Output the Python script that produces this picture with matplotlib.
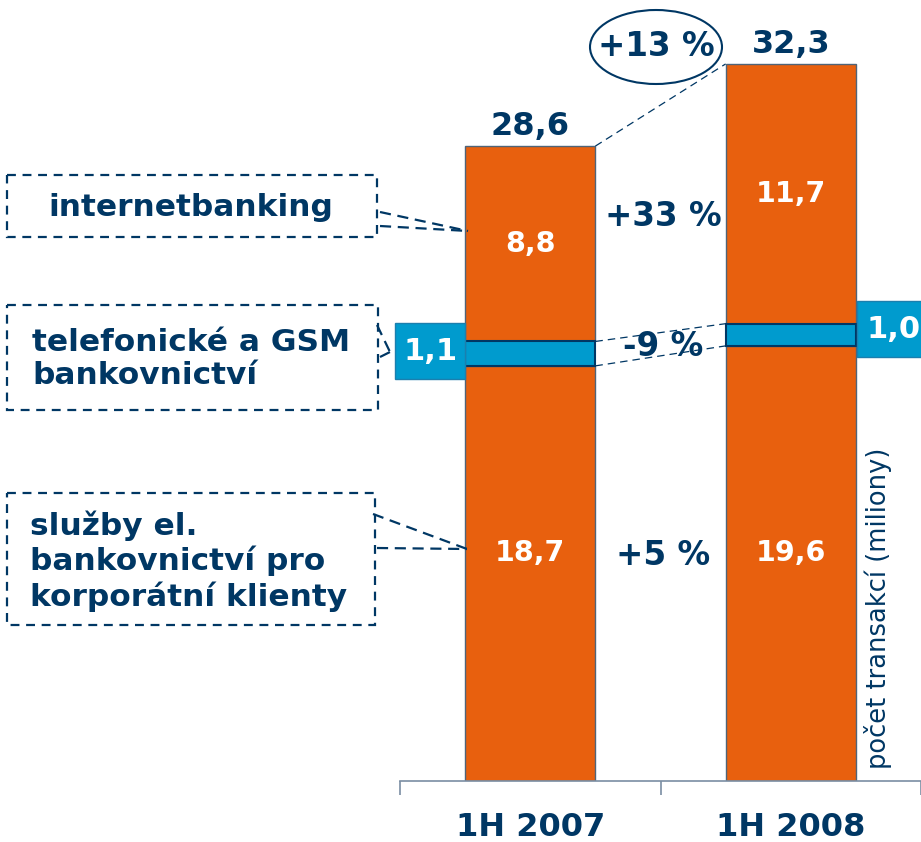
import matplotlib.pyplot as plt
from matplotlib.patches import Rectangle, Ellipse
import numpy as np

# data (milliony transakci)
periods = ["1H 2007", "1H 2008"]
korporatni = [18.7, 19.6]
telefon = [1.1, 1.0]
internet = [8.8, 11.7]
totals = ["28,6", "32,3"]
changes = ["+5 %", "-9 %", "+33 %"]
total_change = "+13 %"

ORANGE = "#E8600E"
BLUE = "#009BCE"
NAVY = "#003764"
EDGE = "#4f6478"


def cz(v):
    return f"{v:.1f}".replace(".", ",")


W, H = 921, 842
fig = plt.figure(figsize=(W / 100, H / 100), dpi=100)
plt.rcParams['font.family'] = ['DejaVu Sans']

# main axes: x 400..921 px, baseline at y=781
base = 781
ppu = 22.2  # pixels per milion
ax = fig.add_axes([400 / W, (H - base) / H, 521 / W, base / H])
ax.set_xlim(-0.5, 1.5)
ax.set_ylim(0, base / ppu)
for s in ["top", "right", "left"]:
    ax.spines[s].set_visible(False)
ax.spines["bottom"].set_color("#7a8ea3")
ax.spines["bottom"].set_linewidth(1.2)
ax.set_yticks([])
ax.set_xticks([-0.5, 0.5, 1.5])
ax.set_xticklabels([])
ax.tick_params(axis="x", length=10, width=1.2, color="#7a8ea3", direction="out")

x = np.arange(len(periods))
bw = 0.5
b1 = np.array(korporatni)
b2 = b1 + np.array(telefon)
tot = b2 + np.array(internet)
ax.bar(x, korporatni, bw, color=ORANGE, edgecolor=EDGE, linewidth=1)
ax.bar(x, telefon, bw, bottom=b1, color=BLUE, edgecolor=NAVY, linewidth=1.5, zorder=3)
ax.bar(x, internet, bw, bottom=b2, color=ORANGE, edgecolor=EDGE, linewidth=1)

low_y = 228 / ppu  # same height for both bottom labels
for i in range(2):
    ax.text(x[i], tot[i] + 0.2, totals[i], ha="center", va="bottom",
            fontsize=23, fontweight="bold", color=NAVY)
    ax.text(x[i], low_y, cz(korporatni[i]), ha="center", va="center",
            fontsize=20.5, fontweight="bold", color="white")
    ax.text(x[i], b2[i] + internet[i] / 2, cz(internet[i]), ha="center",
            va="center", fontsize=20.5, fontweight="bold", color="white")
    ax.text(x[i], -2.1, periods[i], ha="center", va="center", fontsize=23,
            fontweight="bold", color=NAVY, clip_on=False)

# connectors between bars
dash = dict(color=NAVY, lw=0.9, ls=(0, (6, 4)), clip_on=False, zorder=4)
ax.plot([x[0] + bw / 2, x[1] - bw / 2], [tot[0], tot[1]], **dash)
ax.plot([x[0] + bw / 2, x[1] - bw / 2], [b1[0], b1[1]], **dash)
ax.plot([x[0] + bw / 2, x[1] - bw / 2], [b2[0], b2[1]], **dash)

# change labels
chg = dict(ha="center", va="center", fontsize=23.5, fontweight="bold", color=NAVY)
ax.text(0.51, low_y - 0.1, changes[0], **chg)
ax.text(0.51, (781 - 347) / ppu, changes[1], zorder=3, **chg)
ax.text(0.51, (781 - 217) / ppu, changes[2], **chg)

ax.text(1.335, 0.55, "počet transakcí (miliony)", rotation=90, ha="center",
        va="bottom", fontsize=18.5, color=NAVY)

# overlay in pixel coordinates for callouts
ov = fig.add_axes([0, 0, 1, 1], zorder=5)
ov.set_xlim(0, W)
ov.set_ylim(H, 0)
ov.axis("off")
ov.patch.set_alpha(0)

ov.add_patch(Ellipse((656, 47), 132, 74, fill=False, edgecolor=NAVY, lw=1.5))
ov.text(656, 47, total_change, ha="center", va="center", fontsize=23.5,
        fontweight="bold", color=NAVY)

# blue value boxes
ov.add_patch(Rectangle((395, 323), 70, 56, facecolor=BLUE, edgecolor="#1b7fae", lw=1))
ov.text(431, 352, cz(telefon[0]), ha="center", va="center",
        fontsize=22, fontweight="bold", color="white")
ov.add_patch(Rectangle((857, 301), 70, 56, facecolor=BLUE, edgecolor="#1b7fae", lw=1))
ov.text(894, 330, cz(telefon[1]), ha="center", va="center",
        fontsize=22, fontweight="bold", color="white")

bx = dict(fill=False, edgecolor=NAVY, lw=1.6, ls=(0, (4, 3)))
ov.add_patch(Rectangle((7, 175), 370, 62, **bx))
ov.add_patch(Rectangle((7, 305), 371, 105, **bx))
ov.add_patch(Rectangle((7, 493), 368, 132, **bx))

lbl = dict(fontsize=22.5, fontweight="bold", color=NAVY)
ov.text(191, 207, "internetbanking", ha="center", va="center", **lbl)
ov.text(32, 359, "telefonické a GSM\nbankovnictví", ha="left", va="center",
        linespacing=1.2, **lbl)
ov.text(30, 561, "služby el.\nbankovnictví pro\nkorporátní klienty", ha="left",
        va="center", linespacing=1.2, **lbl)

cl = dict(color=NAVY, lw=1.6, ls=(0, (5, 3)))
ov.plot([380, 468], [212, 231], **cl)
ov.plot([380, 468], [226, 231], **cl)
ov.plot([377, 390], [325, 352], **cl)
ov.plot([380, 392], [357, 351], **cl)
ov.plot([373, 467], [514, 549], **cl)
ov.plot([377, 467], [548, 549], **cl)

fig.savefig("out.png", dpi=100)
